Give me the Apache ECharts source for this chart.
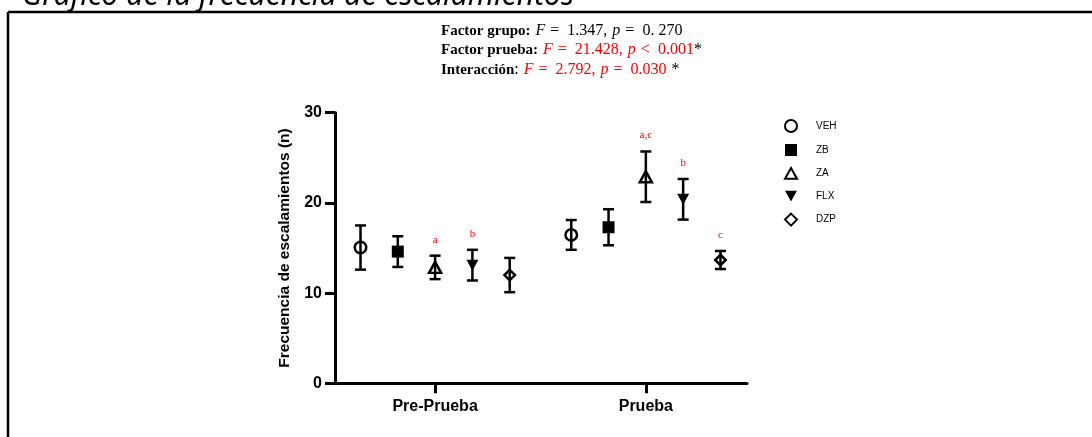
<!DOCTYPE html>
<html>
<head>
<meta charset="utf-8">
<script src="https://cdn.jsdelivr.net/npm/echarts@6/dist/echarts.min.js"></script>
<style>
  html, body { margin: 0; padding: 0; background: #fff; }
  #chart { width: 1092px; height: 437px; }
</style>
</head>
<body>
<div id="chart"></div>
<script>
// categorías y grupos
const categories = ['Pre-Prueba', 'Prueba']
const groups = ['VEH', 'ZB', 'ZA', 'FLX', 'DZP']

// media y error
const meanVEH = [15.05, 16.45]
const errVEH = [2.45, 1.65]
const meanZB = [14.6, 17.3]
const errZB = [1.7, 2.0]
const meanZA = [12.85, 22.9]
const errZA = [1.3, 2.8]
const meanFLX = [13.1, 20.4]
const errFLX = [1.7, 2.25]
const meanDZP = [12.0, 13.67]
const errDZP = [1.9, 1.0]

// letras de significancia
const letterVEH = ['', '']
const letterZB = ['', '']
const letterZA = ['a', 'a,c']
const letterFLX = ['b', 'b']
const letterDZP = ['', 'c']

const yTicks = [0, 10, 20, 30]

const means = [meanVEH, meanZB, meanZA, meanFLX, meanDZP]
const errs = [errVEH, errZB, errZA, errFLX, errDZP]
const letters = [letterVEH, letterZB, letterZA, letterFLX, letterDZP]

const symbols = [
  'circle',
  'rect',
  'path://M5,0 L10,9 L0,9 Z',
  'path://M0,0 L10,0 L5,9 Z',
  'diamond'
]
const symSizes = [11.5, 12, [12, 11], [12, 11], 10.5]
const filled = [false, true, false, true, false]
const step = 0.177

const chart = echarts.init(document.getElementById('chart'))

const series = []
groups.forEach((g, gi) => {
  const off = (gi - 2) * step
  const pts = categories.map((c, ci) => [ci + 1 + off, means[gi][ci], errs[gi][ci], letters[gi][ci]])
  // barras de error
  series.push({
    type: 'custom',
    name: g + '_err',
    data: pts,
    z: 2,
    silent: true,
    renderItem(params, api) {
      const x = api.value(0)
      const m = api.value(1)
      const e = api.value(2)
      const top = api.coord([x, m + e])
      const bot = api.coord([x, m - e])
      const hw = 5.5
      const st = { stroke: '#000', lineWidth: 2.5 }
      const lbl = pts[params.dataIndex][3]
      const children = [
        { type: 'line', shape: { x1: top[0], y1: top[1], x2: bot[0], y2: bot[1] }, style: st },
        { type: 'line', shape: { x1: top[0] - hw, y1: top[1], x2: top[0] + hw, y2: top[1] }, style: st },
        { type: 'line', shape: { x1: bot[0] - hw, y1: bot[1], x2: bot[0] + hw, y2: bot[1] }, style: st }
      ]
      if (lbl) {
        children.push({
          type: 'text',
          style: {
            x: top[0], y: top[1] - 16, text: lbl,
            fill: '#ff0000', font: '11px "Liberation Serif"',
            align: 'center', verticalAlign: 'middle'
          }
        })
      }
      return { type: 'group', children }
    }
  })
  // marcadores
  series.push({
    type: 'scatter',
    name: g,
    data: pts.map(p => [p[0], p[1]]),
    symbol: symbols[gi],
    symbolSize: symSizes[gi],
    z: 3,
    itemStyle: {
      color: filled[gi] ? '#000' : 'rgba(0,0,0,0)',
      borderColor: '#000',
      borderWidth: filled[gi] ? 0 : 2.5,
      opacity: 1
    }
  })
})

const fb = '"Liberation Serif", serif'
chart.setOption({
  animation: false,
  title: {
    left: 436,
    top: 16,
    text: '{b|Factor grupo:} {i|F} {n|=  1.347,} {i|p} {n|=  0. 270}\n' +
      '{b|Factor prueba:} {ir|F} {r|=  21.428,} {ir|p} {r|<  0.001}{n|*}\n' +
      '{b|Interacción}{n|:} {ir|F} {r|=  2.792,} {ir|p} {r|=  0.030} {n|*}',
    textStyle: {
      lineHeight: 19.5,
      fontWeight: 'normal',
      rich: {
        b: { fontFamily: fb, fontWeight: 'bold', fontSize: 15, color: '#000', lineHeight: 19.5 },
        n: { fontFamily: fb, fontWeight: 'normal', fontSize: 16, color: '#000', lineHeight: 19.5 },
        i: { fontFamily: fb, fontWeight: 'normal', fontStyle: 'italic', fontSize: 16, color: '#000', lineHeight: 19.5 },
        r: { fontFamily: fb, fontWeight: 'normal', fontSize: 16, color: '#ff0000', lineHeight: 19.5 },
        ir: { fontFamily: fb, fontWeight: 'normal', fontStyle: 'italic', fontSize: 16, color: '#ff0000', lineHeight: 19.5 }
      }
    }
  },
  graphic: [
    {
      type: 'text', left: 22, top: -19, silent: true,
      style: {
        text: 'Gráfico de la frecuencia de escalamientos',
        font: 'italic 30px "Noto Sans"', fill: '#000'
      }
    },
    {
      type: 'line', silent: true,
      shape: { x1: 8, y1: 12, x2: 1092, y2: 12 },
      style: { stroke: '#000', lineWidth: 2.5 }
    },
    {
      type: 'line', silent: true,
      shape: { x1: 8, y1: 12, x2: 8, y2: 437 },
      style: { stroke: '#000', lineWidth: 2.5 }
    }
  ],
  legend: {
    orient: 'vertical',
    left: 779,
    top: 114,
    itemWidth: 12,
    itemHeight: 12,
    itemGap: 11,
    data: groups,
    textStyle: {
      fontFamily: '"Liberation Sans", Arial',
      fontSize: 10,
      color: '#000',
      padding: [0, 0, 0, 14]
    }
  },
  grid: {
    left: 335,
    right: 345,
    top: 112.7,
    bottom: 53.7
  },
  xAxis: {
    type: 'value',
    min: 0.525,
    max: 2.48,
    splitLine: { show: false },
    axisLine: { lineStyle: { color: '#000', width: 3 } },
    axisTick: {
      show: true,
      customValues: [1, 2],
      length: 10,
      lineStyle: { color: '#000', width: 3 }
    },
    axisLabel: {
      customValues: [1, 2],
      formatter: v => categories[Math.round(v) - 1] || '',
      margin: 15,
      fontFamily: '"Liberation Sans", Arial',
      fontWeight: 'bold',
      fontSize: 16,
      color: '#000'
    }
  },
  yAxis: {
    type: 'value',
    min: 0,
    max: 30,
    interval: 10,
    name: 'Frecuencia de escalamientos (n)',
    nameLocation: 'middle',
    nameGap: 42,
    nameTextStyle: {
      fontFamily: '"Liberation Sans", Arial',
      fontWeight: 'bold',
      fontSize: 15.5,
      color: '#000'
    },
    splitLine: { show: false },
    axisLine: { show: true, lineStyle: { color: '#000', width: 3 } },
    axisTick: { show: true, length: 10, lineStyle: { color: '#000', width: 3 } },
    axisLabel: {
      margin: 13,
      fontFamily: '"Liberation Sans", Arial',
      fontWeight: 'bold',
      fontSize: 16,
      color: '#000',
      formatter: v => (yTicks.indexOf(v) >= 0 ? String(v) : '')
    }
  },
  series
})
</script>
</body>
</html>
